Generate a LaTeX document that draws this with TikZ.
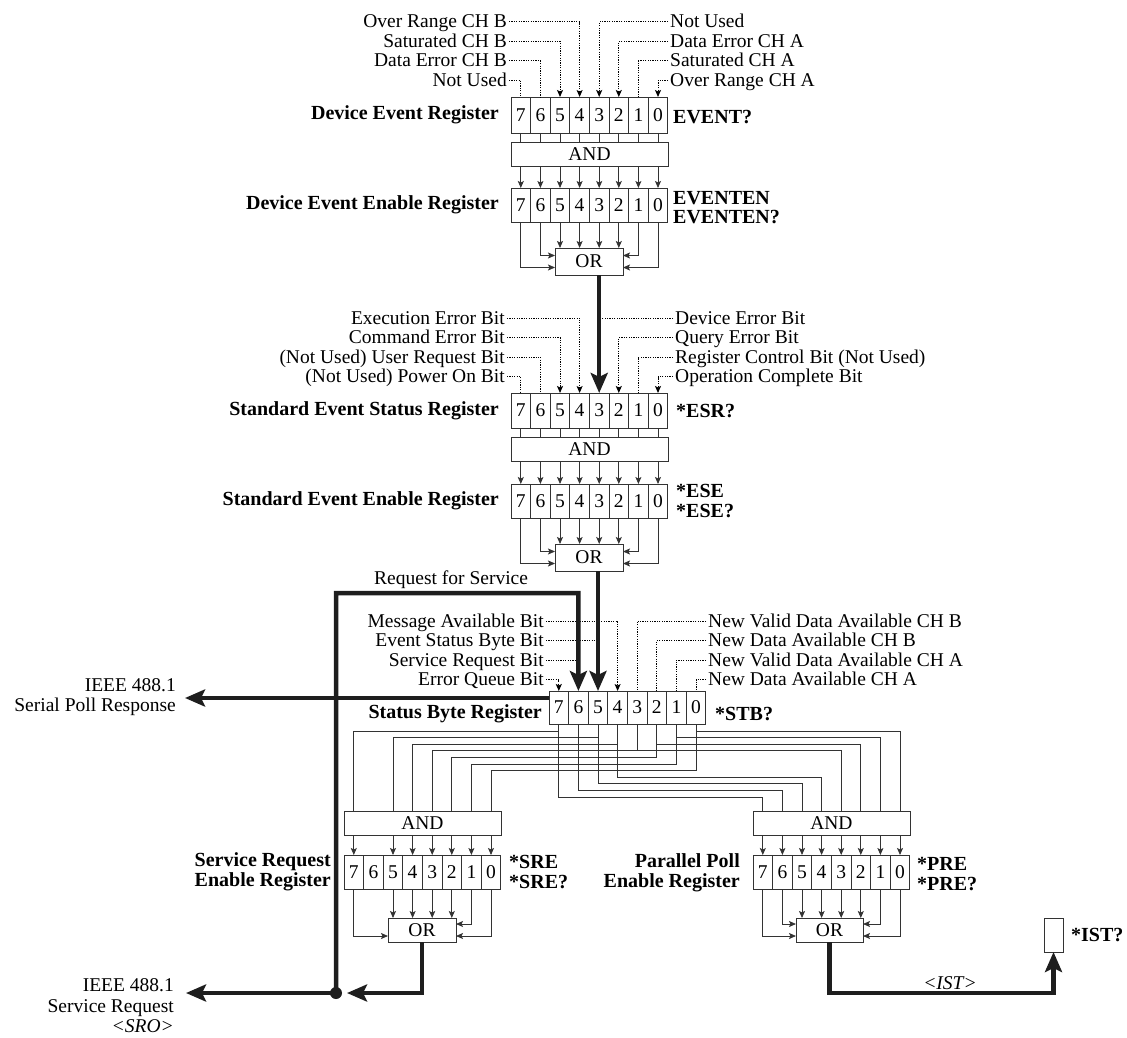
\documentclass[tikz,border=0pt]{standalone}
\usepackage{fontspec}
\setmainfont{Liberation Serif}
\usetikzlibrary{arrows.meta,calc}
\definecolor{linec}{HTML}{333333}
\definecolor{thickc}{HTML}{1E1E1E}
\newcommand\rfont{\fontsize{19.5}{20.5}\selectfont}
\newcommand\bfont{\fontsize{20}{20.5}\selectfont\bfseries}
\newcommand\regrow[4]{%
  \foreach \n in {0,...,7}{%
    \node[cell, minimum height=#4pt] (#1-\n) at ({#2+(7.5-\n)*19.6},{#3+#4/2}) {\n};}}
\begin{document}
\begin{tikzpicture}[x=1pt,y=-1pt,
  cell/.style={draw=linec, line width=0.8pt, minimum width=19.6pt, inner sep=0pt, outer sep=0pt, font=\rfont},
  gate/.style={draw=linec, line width=0.8pt, inner sep=0pt, outer sep=0pt, font=\rfont},
  wire/.style={draw=linec, line width=0.8pt},
  warr/.style={wire, -{Stealth[length=7pt,width=6pt,inset=1.5pt]}},
  dots/.style={draw=black, line width=1pt, dash pattern=on 1.2pt off 1.2pt},
  darr/.style={dots, -{Stealth[length=7pt,width=6pt,inset=1.5pt]}},
  thk/.style={draw=thickc, line width=4.5pt},
  thkarr/.style={thk, -{Stealth[length=20pt,width=17pt,inset=4pt]}},
  lab/.style={font=\rfont, inner sep=2pt, text height=13pt, text depth=1pt},
  blab/.style={font=\bfont, inner sep=0pt},
  mlab/.style={font=\rfont, inner sep=0pt, align=right},
]
\useasboundingbox (0,0) rectangle (1127,1038);

% ---------------- registers and gates
\regrow{D}{511}{97}{36}
\node[gate,minimum width=157pt,minimum height=24pt] (DA) at (589.5,154) {AND};
\regrow{DE}{511}{188}{34}
\node[gate,minimum width=68pt,minimum height=27pt] (DO) at (589,261.5) {OR};
\regrow{E}{511}{393}{35}
\node[gate,minimum width=157pt,minimum height=24pt] (EA) at (589.5,449) {AND};
\regrow{EE}{511}{484}{34}
\node[gate,minimum width=68pt,minimum height=27pt] (EO) at (589,557.5) {OR};
\regrow{S}{549}{691}{33}
\node[gate,minimum width=157pt,minimum height=24pt] (RA) at (422.4,823) {AND};
\regrow{R}{344}{855}{34}
\node[gate,minimum width=68pt,minimum height=24pt] (RO) at (422,930) {OR};
\node[gate,minimum width=157pt,minimum height=24pt] (PA) at (831.4,823) {AND};
\regrow{P}{753}{855}{34}
\node[gate,minimum width=67pt,minimum height=24pt] (PO) at (829.5,930) {OR};
\node[cell,minimum width=19pt,minimum height=34pt] (IST) at (1053.5,935) {};

% ---------------- register -> AND -> register
\foreach \n in {0,...,7}{
  \draw[wire] (D-\n.south) -- (D-\n.south |- DA.north);
  \draw[warr] (DE-\n.north |- DA.south) -- (DE-\n.north);
  \draw[wire] (E-\n.south) -- (E-\n.south |- EA.north);
  \draw[warr] (EE-\n.north |- EA.south) -- (EE-\n.north);
  \draw[warr] (P-\n.north |- PA.south) -- (P-\n.north);
}
\foreach \n in {0,1,2,3,4,5,7}{
  \draw[warr] (R-\n.north |- RA.south) -- (R-\n.north);
}
% ---------------- register -> OR
\foreach \g/\o in {DE/DO,EE/EO,P/PO}{
  \foreach \n in {2,...,5}{\draw[warr] (\g-\n.south) -- (\g-\n.south |- \o.north);}
  \draw[warr] (\g-6.south) |- ([yshift=6pt]\o.west);
  \draw[warr] (\g-7.south) |- ([yshift=-6pt]\o.west);
  \draw[warr] (\g-1.south) |- ([yshift=6pt]\o.east);
  \draw[warr] (\g-0.south) |- ([yshift=-6pt]\o.east);
}
\foreach \n in {2,...,5}{\draw[warr] (R-\n.south) -- (R-\n.south |- RO.north);}
\draw[warr] (R-7.south) |- ([yshift=-6pt]RO.west);
\draw[warr] (R-1.south) |- ([yshift=6pt]RO.east);
\draw[warr] (R-0.south) |- ([yshift=-6pt]RO.east);

% ---------------- status byte fan-out
\foreach \n/\y in {7/731,5/737.6,4/744.2,3/750.8,2/757.4,1/764,0/770.6}{
  \draw[wire] (S-\n.south) -- ++(0,{\y-724}) -| (R-\n.south |- RA.north);
}
\foreach \n/\y in {0/731,1/737.6,2/744.2,3/750.8,4/777.2,5/783.8,6/790.4,7/797}{
  \draw[wire] (S-\n.south) -- ++(0,{\y-724}) -| (P-\n.north |- PA.north);
}

% ---------------- dotted source labels
\foreach \t/\y/\n/\s in {Over Range CH B/22/4/darr, Saturated CH B/41.5/5/darr, Data Error CH B/61/6/dots, Not Used/80.5/7/dots}{
  \node[lab,anchor=east] (dl\n) at (509,\y) {\t};
  \draw[\s] (dl\n.east) -| (D-\n.north);
}
\foreach \t/\y/\n/\s in {Not Used/22/3/darr, Data Error CH A/41.5/2/darr, Saturated CH A/61/1/dots, Over Range CH A/80.5/0/darr}{
  \node[lab,anchor=west] (dr\n) at (668,\y) {\t};
  \draw[\s] (dr\n.west) -| (D-\n.north);
}
\foreach \t/\y/\n/\s in {Execution Error Bit/318/4/darr, Command Error Bit/337.5/5/darr, (Not Used) User Request Bit/357/6/dots, (Not Used) Power On Bit/376.5/7/dots}{
  \node[lab,anchor=east] (el\n) at (507,\y) {\t};
  \draw[\s] (el\n.east) -| (E-\n.north);
}
\node[lab,anchor=west] (er3) at (673,318) {Device Error Bit};
\draw[dots] (er3.west) -- (er3.west -| E-3.north);
\foreach \t/\y/\n/\s in {Query Error Bit/337.5/2/darr, Register Control Bit (Not Used)/357/1/dots, Operation Complete Bit/376.5/0/darr}{
  \node[lab,anchor=west] (er\n) at (673,\y) {\t};
  \draw[\s] (er\n.west) -| (E-\n.north);
}
\node[lab,anchor=east] (sl4) at (546,621) {Message Available Bit};
\draw[darr] (sl4.east) -| (S-4.north);
\node[lab,anchor=east] (sl5) at (546,640.5) {Event Status Byte Bit};
\draw[dots] (sl5.east) -- (sl5.east -| S-5.north);
\node[lab,anchor=east] (sl6) at (546,660) {Service Request Bit};
\draw[dots] (sl6.east) -- (sl6.east -| S-6.north);
\node[lab,anchor=east] (sl7) at (546,679.5) {Error Queue Bit};
\draw[darr] (sl7.east) -| (S-7.north);
\foreach \t/\y/\n in {New Valid Data Available CH B/621/3, New Data Available CH B/640.5/2, New Valid Data Available CH A/660/1, New Data Available CH A/679.5/0}{
  \node[lab,anchor=west] (sr\n) at (706,\y) {\t};
  \draw[dots] (sr\n.west) -| (S-\n.north);
}

% ---------------- register names and commands
\node[blab,anchor=east] (nD) at (499,115) {Device Event Register};
\node[blab,anchor=east] (nDE) at (499,205) {Device Event Enable Register};
\node[blab,anchor=east] (nE) at (499,410.5) {Standard Event Status Register};
\node[blab,anchor=east] (nEE) at (499,501) {Standard Event Enable Register};
\node[blab,anchor=east] (nS) at (542,714) {Status Byte Register};
\node[blab,anchor=east,align=right] (nR) at (331,872) {Service Request\\Enable Register};
\node[blab,anchor=east,align=right] (nP) at (740,873) {Parallel Poll\\Enable Register};
\node[blab,anchor=west] (cD) at (673,117) {EVENT?};
\node[blab,anchor=west,align=left,font=\fontsize{20}{19}\selectfont\bfseries] (cDE) at (673,208) {EVENTEN\\EVENTEN?};
\node[blab,anchor=west] (cE) at (676,411) {*ESR?};
\node[blab,anchor=west,align=left] (cEE) at (676,501) {*ESE\\*ESE?};
\node[blab,anchor=west] (cS) at (715,714) {*STB?};
\node[blab,anchor=west,align=left] (cR) at (509,872) {*SRE\\*SRE?};
\node[blab,anchor=west,align=left] (cP) at (917,874) {*PRE\\*PRE?};
\node[blab,anchor=west] (cI) at (1071,935) {*IST?};

% ---------------- thick signal paths
\coordinate (junc) at (336,993);
\coordinate (rqs) at (578.4,593);
\coordinate (sroend) at (186,993);
\coordinate (spend) at (185,698);
\draw[thkarr] (DO.south -| E-3.north) -- (E-3.north);
\draw[thkarr] (EO.south -| S-5.north) -- (S-5.north);
\draw[thkarr] (junc) |- (rqs) -- (S-6.north);
\draw[thkarr] ([yshift=9.5pt]S-7.west) -- (spend);
\draw[thkarr, shorten >=11pt] (RO.south) |- (junc);
\draw[thkarr] (junc) -- (sroend);
\fill[thickc] (junc) circle (6pt);
\draw[thkarr] (PO.south) -- ++(0,51) -| (IST.south);

\node[mlab,anchor=west] (rfs) at (374,580) {Request for Service};
\node[mlab,anchor=east] (spr) at (176,697) {IEEE 488.1\\Serial Poll Response};
\node[mlab,anchor=east] (sro) at (174,1006) {IEEE 488.1\\Service Request\\\textit{<SRO>}};
\node[mlab,anchor=center] (istl) at (950,983) {\textit{<IST>}};
\end{tikzpicture}
\end{document}
